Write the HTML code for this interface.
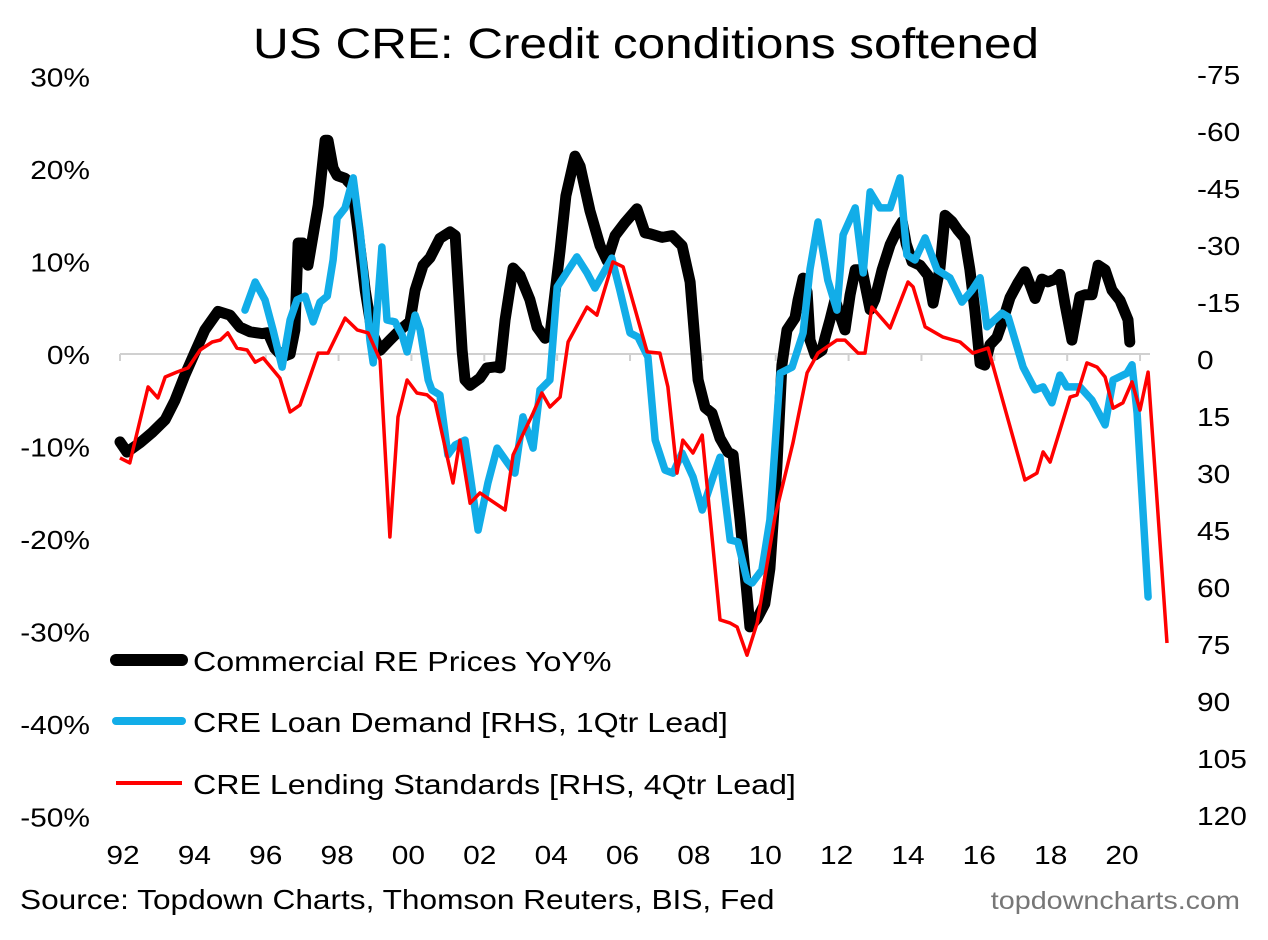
<!DOCTYPE html>
<html><head><meta charset="utf-8"><style>
body{margin:0;background:#fff;}
svg text{font-family:"Liberation Sans",Arial,sans-serif;}
</style></head><body>
<svg id="chart" width="1268" height="935" viewBox="0 0 1268 935">
<rect width="1268" height="935" fill="#fff"/>
<text transform="translate(646,58) scale(1.15,1)" font-size="43" text-anchor="middle">US CRE: Credit conditions softened</text>
<g id="axes"></g>
<g id="series"></g>
<g>
<line x1="116" y1="660" x2="182" y2="660" stroke="#000" stroke-width="12" stroke-linecap="round"/>
<text transform="translate(193,671) scale(1.15,1)" font-size="28">Commercial RE Prices YoY%</text>
<line x1="116" y1="721" x2="182" y2="721" stroke="#12ade8" stroke-width="8" stroke-linecap="round"/>
<text transform="translate(193,732) scale(1.15,1)" font-size="28">CRE Loan Demand [RHS, 1Qtr Lead]</text>
<line x1="116" y1="783" x2="182" y2="783" stroke="#f00" stroke-width="4"/>
<text transform="translate(193,794) scale(1.15,1)" font-size="28">CRE Lending Standards [RHS, 4Qtr Lead]</text>
</g>
<text transform="translate(20,909) scale(1.15,1)" font-size="27.5">Source: Topdown Charts, Thomson Reuters, BIS, Fed</text>
<text transform="translate(1240,909) scale(1.15,1)" font-size="25" fill="#777" text-anchor="end">topdowncharts.com</text>
</svg>
<script>
const leftTicks=[30,20,10,0,-10,-20,-30,-40,-50];
const rightTicks=[-75,-60,-45,-30,-15,0,15,30,45,60,75,90,105,120];
const xTickYears=[1992,1994,1996,1998,2000,2002,2004,2006,2008,2010,2012,2014,2016,2018,2020];
const xTickLabels=["92","94","96","98","00","02","04","06","08","10","12","14","16","18","20"];

const priceYears=[1992.00,1992.19,1992.55,1992.88,1993.24,1993.51,1993.78,1994.06,1994.33,1994.69,1995.02,1995.29,1995.57,1995.90,1996.06,1996.25,1996.47,1996.67,1996.80,1996.89,1997.02,1997.16,1997.44,1997.63,1997.71,1997.85,1997.96,1998.18,1998.37,1998.53,1998.73,1998.92,1999.14,1999.41,1999.69,1999.96,2000.10,2000.32,2000.51,2000.78,2001.06,2001.20,2001.39,2001.47,2001.61,2001.88,2002.07,2002.29,2002.43,2002.57,2002.79,2002.98,2003.25,2003.45,2003.67,2003.80,2004.08,2004.24,2004.49,2004.63,2004.90,2005.18,2005.37,2005.59,2005.86,2006.19,2006.41,2006.55,2006.88,2007.15,2007.43,2007.65,2007.87,2008.06,2008.25,2008.47,2008.69,2008.83,2009.02,2009.21,2009.29,2009.49,2009.70,2009.84,2010.03,2010.17,2010.31,2010.53,2010.61,2010.75,2010.86,2010.94,2011.08,2011.27,2011.35,2011.49,2011.63,2011.76,2011.90,2012.04,2012.18,2012.37,2012.59,2012.72,2012.92,2013.14,2013.33,2013.47,2013.58,2013.74,2013.96,2014.18,2014.32,2014.51,2014.65,2014.84,2015.00,2015.19,2015.33,2015.47,2015.61,2015.74,2015.88,2016.07,2016.24,2016.43,2016.65,2016.84,2016.98,2017.12,2017.31,2017.47,2017.67,2017.80,2017.94,2018.13,2018.35,2018.49,2018.68,2018.85,2019.04,2019.23,2019.45,2019.67,2019.72];
const priceValues=[-9.5,-10.6,-9.6,-8.5,-7.1,-5.0,-2.3,0.2,2.6,4.6,4.2,2.9,2.4,2.2,2.3,0.6,-0.3,0,2.6,12.0,12.0,9.6,16.1,23.1,23.1,20.1,19.3,19.0,18.2,13.4,6.9,2.3,0.4,1.5,2.6,3.5,6.9,9.6,10.4,12.5,13.2,12.8,0.4,-2.8,-3.4,-2.6,-1.5,-1.4,-1.5,3.7,9.3,8.5,5.9,2.9,1.7,2.0,11.2,17.1,21.4,20.3,15.5,11.7,10.1,12.8,14.2,15.7,13.1,13.0,12.6,12.8,11.7,7.8,-2.8,-5.8,-6.4,-9.1,-10.6,-10.9,-17.9,-26.0,-29.5,-28.6,-27.0,-23.2,-12.4,-1.2,2.6,3.9,5.8,8.2,6.7,1.5,-0.1,0.4,1.7,3.7,5.9,4.2,2.6,6.4,9.1,9.1,4.8,5.9,9.1,11.8,13.4,14.3,11.9,10.0,9.6,8.5,5.5,9.3,15.0,14.3,13.4,12.5,9.1,4.6,-1.0,-1.2,1.0,1.8,3.7,6.1,7.7,8.9,7.5,6.0,8.1,7.8,8.1,8.6,5.4,1.5,6.2,6.4,6.4,9.6,9.1,6.9,5.8,3.7,1.3];

const demandYears=[1995.43,1995.71,1995.98,1996.20,1996.45,1996.67,1996.86,1997.08,1997.30,1997.49,1997.69,1997.85,1997.96,1998.18,1998.40,1998.59,1998.73,1998.86,1998.95,1999.19,1999.33,1999.55,1999.74,1999.88,2000.10,2000.24,2000.46,2000.56,2000.78,2001.00,2001.20,2001.47,2001.83,2002.10,2002.35,2002.62,2002.84,2003.06,2003.34,2003.53,2003.80,2004.00,2004.54,2004.82,2005.04,2005.50,2005.72,2006.00,2006.22,2006.49,2006.69,2006.96,2007.18,2007.43,2007.73,2007.98,2008.28,2008.47,2008.75,2008.96,2009.21,2009.35,2009.62,2009.84,2010.12,2010.45,2010.75,2010.94,2011.16,2011.43,2011.68,2011.85,2012.18,2012.40,2012.59,2012.86,2013.14,2013.41,2013.60,2013.82,2014.10,2014.43,2014.78,2015.11,2015.39,2015.61,2015.80,2016.21,2016.38,2016.79,2017.12,2017.34,2017.58,2017.80,2017.99,2018.35,2018.68,2019.04,2019.26,2019.64,2019.78,2019.92,2020.22];
const demandValues=[-12.6,-20.0,-15.3,-7.4,2.4,-10.0,-15.3,-16.3,-9.5,-14.7,-16.3,-25.8,-36.8,-39.5,-47.4,-33.4,-20.3,-4.7,1.3,-29.2,-10.0,-9.5,-6.1,-1.6,-11.3,-7.4,5.8,8.4,9.7,25.5,22.9,21.6,45.3,32.9,23.7,27.4,30.3,15.5,23.7,8.4,5.8,-18.7,-26.6,-22.4,-18.4,-26.3,-17.9,-6.6,-5.5,-0.3,21.6,29.5,30.3,25.0,31.3,40.0,31.3,26.1,47.9,48.4,58.4,59.2,55.8,42.6,4.0,2.4,-6.6,-23.4,-35.8,-20.5,-12.6,-32.4,-39.5,-22.4,-43.7,-39.5,-39.5,-47.4,-27.1,-25.8,-31.6,-23.2,-21.1,-14.7,-17.9,-21.1,-8.2,-11.8,-10.8,2.4,8.4,7.6,11.8,4.5,7.6,7.6,11.1,17.6,5.8,4.0,1.8,14.5,62.9];

const standardsYears=[1992.00,1992.27,1992.77,1993.04,1993.24,1993.56,1993.87,1994.20,1994.53,1994.75,1994.96,1995.21,1995.49,1995.71,1995.93,1996.39,1996.67,1996.94,1997.44,1997.71,1998.18,1998.51,1998.81,1999.14,1999.41,1999.63,1999.88,2000.15,2000.43,2000.65,2001.14,2001.33,2001.61,2001.88,2002.57,2002.79,2003.34,2003.58,2003.80,2004.08,2004.30,2004.82,2005.09,2005.53,2005.81,2006.47,2006.82,2007.04,2007.29,2007.45,2007.73,2007.98,2008.47,2008.74,2008.94,2009.21,2009.49,2009.98,2010.47,2010.86,2011.16,2011.68,2011.90,2012.26,2012.45,2012.64,2013.14,2013.63,2013.77,2014.10,2014.59,2015.06,2015.41,2015.83,2016.84,2017.17,2017.34,2017.53,2018.08,2018.27,2018.54,2018.82,2019.04,2019.26,2019.53,2019.78,2020.00,2020.22,2020.74];
const standardsValues=[26.3,27.6,7.6,10.5,5.0,3.7,2.6,-2.1,-4.2,-4.7,-6.6,-2.6,-2.1,1.1,0,5.3,14.2,12.4,-1.3,-1.3,-10.5,-7.4,-6.6,0.5,47.1,15.5,5.8,9.2,9.7,11.6,32.9,21.6,38.2,35.5,40.0,25.5,14.5,9.2,12.9,10.3,-4.2,-13.4,-11.3,-25.3,-24.0,-1.6,-1.3,7.6,30.3,21.6,25.0,20.3,68.9,69.7,70.8,78.2,69.7,41.8,22.4,3.9,-1.3,-4.7,-4.7,-1.3,-1.3,-13.4,-7.9,-20.0,-18.7,-8.2,-5.5,-4.2,-1.3,-2.6,32.1,30.3,24.7,27.4,10.3,9.7,1.3,2.4,5.0,13.2,11.8,6.3,13.7,3.7,75.0];

const NS="http://www.w3.org/2000/svg";
function xScale(yr){return 120+(yr-1992)*36.43;}
function labelX(yr){return 123+(yr-1992)*35.68;}
function yLeft(v){return 354-v*9.25;}
function yRight(v){return 358+v*3.8;}
function mk(tag,attrs,parent){const e=document.createElementNS(NS,tag);for(const k in attrs)e.setAttribute(k,attrs[k]);parent.appendChild(e);return e;}
const axes=document.getElementById('axes');
const series=document.getElementById('series');

const zl=mk('line',{x1:120,y1:yLeft(0),x2:1150,y2:yLeft(0),stroke:'#d0d0d0','stroke-width':2},axes);


xTickYears.forEach((yr,i)=>{
  const t=mk('line',{x1:xScale(yr),y1:yLeft(0),x2:xScale(yr),y2:yLeft(0)+7,stroke:'#d0d0d0','stroke-width':2},axes);
  
  
  const l=mk('text',{transform:`translate(${labelX(yr).toFixed(1)},864) scale(1.15,1)`,'font-size':26,'text-anchor':'middle'},axes);
  l.textContent=xTickLabels[i];
  
  
});
leftTicks.forEach(v=>{
  const l=mk('text',{transform:`translate(90,${(yLeft(v)+10).toFixed(1)}) scale(1.15,1)`,'font-size':26,'text-anchor':'end'},axes);
  l.textContent=v+'%';
  
  
});
rightTicks.forEach(v=>{
  const l=mk('text',{transform:`translate(1197,${(yRight(v)+11).toFixed(1)}) scale(1.15,1)`,'font-size':26},axes);
  l.textContent=String(v);
  
  
});
function path(xs,vs,yf){return xs.map((x,i)=>(i?'L':'M')+xScale(x).toFixed(1)+' '+yf(vs[i]).toFixed(1)).join(' ');}
const pP=mk('path',{d:path(priceYears,priceValues,yLeft),fill:'none',stroke:'#000','stroke-width':11,'stroke-linejoin':'round','stroke-linecap':'round'},series);


const pD=mk('path',{d:path(demandYears,demandValues,yRight),fill:'none',stroke:'#12ade8','stroke-width':7.5,'stroke-linejoin':'round','stroke-linecap':'round'},series);


const pS=mk('path',{d:path(standardsYears,standardsValues,yRight),fill:'none',stroke:'#f00','stroke-width':3.5,'stroke-linejoin':'round'},series);


</script>
</body></html>
